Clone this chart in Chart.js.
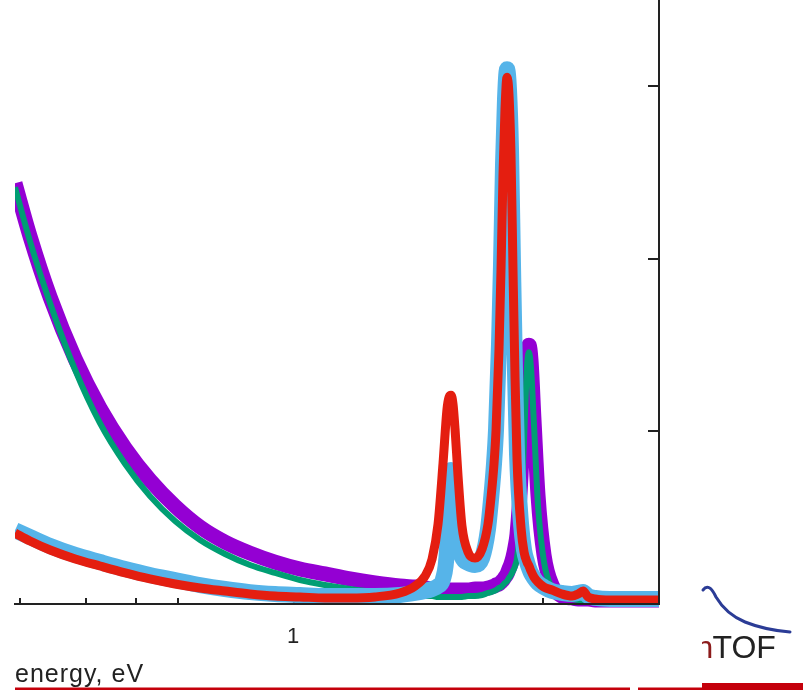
<!DOCTYPE html>
<html>
<head>
<meta charset="utf-8">
<script src="https://cdn.jsdelivr.net/npm/chart.js@4/dist/chart.umd.min.js"></script>
<style>
  html, body { margin: 0; padding: 0; background: #ffffff; }
  #wrap { width: 803px; height: 690px; position: relative; }
</style>
</head>
<body>
<div id="wrap"><canvas id="c" width="803" height="690"></canvas></div>
<script>
// ---- data (energy in eV, y in arbitrary units) ----
const energy = [0.293,0.313,0.342,0.382,0.426,0.476,0.531,0.593,0.662,0.739,0.825,0.921,1.028,1.148,1.282,1.431,1.597,
  1.707,1.784,1.840,1.889,1.931,1.965,1.983,2.000,2.018,2.036,2.063,2.099,2.156,2.223,2.293,2.354,2.386,2.417,2.439,
  2.471,2.493,2.515,2.537,2.560,2.582,2.605,2.628,2.652,2.675,2.723,2.759,2.796,2.820,2.845,2.883,2.934,3.013,3.121,
  3.261,3.408,3.500,3.578,3.657,3.772,4.029,4.400,5.000];

const purplePoints = [2.438,2.131,1.778,1.419,1.135,0.903,0.718,0.567,0.446,0.359,0.295,0.243,0.203,0.174,0.145,0.122,0.104,
  0.098,0.093,0.087,0.087,0.081,0.081,0.081,0.081,0.081,0.081,0.081,0.081,0.081,0.087,0.087,0.093,0.098,0.104,0.110,
  0.116,0.127,0.139,0.156,0.174,0.203,0.232,0.272,0.330,0.405,0.747,1.152,1.442,1.500,1.413,1.065,0.631,0.284,0.110,
  0.046,0.035,0.029,0.029,0.029,0.023,0.023,0.023,0.023];

const greenLine = [2.415,2.102,1.743,1.355,1.048,0.811,0.625,0.481,0.371,0.290,0.226,0.180,0.139,0.110,0.087,0.069,0.058,
  0.052,0.046,0.046,0.041,0.041,0.041,0.041,0.041,0.041,0.041,0.041,0.041,0.046,0.046,0.052,0.064,0.069,0.075,0.081,
  0.093,0.098,0.110,0.122,0.133,0.151,0.168,0.191,0.220,0.266,0.544,0.950,1.384,1.459,1.367,1.036,0.573,0.243,0.093,
  0.041,0.029,0.023,0.023,0.023,0.023,0.017,0.017,0.017];

const bluePoints = [0.428,0.388,0.336,0.284,0.243,0.203,0.168,0.139,0.110,0.087,0.069,0.058,0.052,0.046,0.046,0.046,0.052,
  0.064,0.075,0.087,0.104,0.145,0.318,0.666,0.776,0.753,0.608,0.359,0.272,0.237,0.226,0.266,0.434,0.608,0.811,1.013,
  1.506,1.969,2.548,2.924,3.098,2.982,2.635,1.969,1.332,0.869,0.463,0.313,0.243,0.208,0.180,0.151,0.122,0.098,0.075,
  0.064,0.058,0.064,0.069,0.046,0.035,0.029,0.029,0.029];

const redLine = [0.411,0.365,0.313,0.261,0.220,0.180,0.145,0.116,0.093,0.075,0.058,0.046,0.041,0.035,0.035,0.041,0.064,
  0.104,0.162,0.261,0.463,0.816,1.129,1.199,1.210,1.158,1.013,0.741,0.452,0.301,0.266,0.318,0.463,0.620,0.811,1.008,
  1.477,1.940,2.490,2.866,3.052,2.953,2.606,1.940,1.303,0.840,0.440,0.301,0.243,0.220,0.191,0.156,0.127,0.098,0.081,
  0.058,0.046,0.058,0.075,0.041,0.029,0.023,0.023,0.023];

const xLabelValues = [1];
const xTickLabels = ['1'];
const xMinorTicks = [0.3,0.4,0.5,0.6,3];
const xMajorTicks = [1];
const yTickValues = [1,2,3];
const xTitle = 'energy, eV';
const logoText = ['n', 'TOF'];

const pts = arr => energy.map((e, i) => ({ x: e, y: arr[i] }));
const clipBox = { left: 0, right: 0, top: 20, bottom: 12 };

const innerTicks = {
  id: 'innerTicks',
  beforeDraw(chart) { chart.ctx.letterSpacing = '1px'; },
  beforeDatasetsDraw(chart) {
    const { ctx, chartArea, scales: { x, y } } = chart;
    ctx.save();
    ctx.strokeStyle = '#222';
    ctx.lineWidth = 2;
    ctx.beginPath();
    xMinorTicks.forEach(v => { const p = Math.round(x.getPixelForValue(v)); ctx.moveTo(p, chartArea.bottom); ctx.lineTo(p, chartArea.bottom - 6); });
    xMajorTicks.forEach(v => { const p = Math.round(x.getPixelForValue(v)); ctx.moveTo(p, chartArea.bottom); ctx.lineTo(p, chartArea.bottom - 11); });
    yTickValues.forEach(v => { const p = Math.round(y.getPixelForValue(v)); ctx.moveTo(chartArea.right, p); ctx.lineTo(chartArea.right - 11, p); });
    ctx.stroke();
    ctx.restore();
  },
  afterDraw(chart) {
    const ctx = chart.ctx;
    ctx.save();
    ctx.letterSpacing = '0px';
    // slide footer bars
    ctx.fillStyle = '#c4000b';
    ctx.fillRect(15, 687.5, 615, 2.5);
    ctx.fillRect(638, 687.5, 64, 2.5);
    ctx.fillRect(702, 683, 101, 7);
    // logo swoosh
    ctx.strokeStyle = '#2b3c96';
    ctx.lineWidth = 3;
    ctx.lineJoin = 'round';
    ctx.lineCap = 'round';
    ctx.beginPath();
    ctx.moveTo(703, 590);
    ctx.quadraticCurveTo(709, 582, 716, 597);
    ctx.quadraticCurveTo(726, 614, 745, 622);
    ctx.quadraticCurveTo(765, 630, 790, 632);
    ctx.stroke();
    // logo text
    ctx.font = '32px "Liberation Sans", Arial, sans-serif';
    ctx.textBaseline = 'alphabetic';
    ctx.textAlign = 'left';
    ctx.save();
    ctx.beginPath(); ctx.rect(702, 600, 101, 80); ctx.clip();
    ctx.fillStyle = '#8c1b1b';
    ctx.fillText(logoText[0], 695.5, 658);
    ctx.restore();
    ctx.fillStyle = '#222';
    ctx.fillText(logoText[1], 712.5, 658);
    ctx.restore();
  }
};

const lineSet = (label, arr, color, width, order) => ({
  label, data: pts(arr), borderColor: color, borderWidth: width, pointRadius: 0, order,
  cubicInterpolationMode: 'monotone', borderJoinStyle: 'round', borderCapStyle: 'butt', clip: clipBox
});

new Chart(document.getElementById('c'), {
  type: 'line',
  data: {
    datasets: [
      lineSet('fit 2', redLine, '#e41e10', 9, 0),
      lineSet('data 2', bluePoints, '#56b4e9', 16, 1),
      lineSet('fit 1', greenLine, '#009e73', 6, 2),
      lineSet('data 1', purplePoints, '#9400d3', 15, 3)
    ]
  },
  options: {
    responsive: false,
    animation: false,
    devicePixelRatio: 1,
    layout: { padding: { left: 15, top: 0, right: 0, bottom: 0 } },
    plugins: { legend: { display: false }, tooltip: { enabled: false } },
    scales: {
      x: {
        type: 'logarithmic', position: 'bottom', min: 0.293, max: 5,
        afterBuildTicks: s => { s.ticks = xLabelValues.map(v => ({ value: v })); },
        afterFit: s => { s.height = 86; },
        grid: { display: false, drawTicks: false },
        border: { display: true, color: '#222', width: 2, z: 1 },
        ticks: {
          autoSkip: false, maxRotation: 0, padding: 20, color: '#222',
          font: { family: '"Liberation Sans", Arial, sans-serif', size: 22 },
          callback: v => { const i = xLabelValues.indexOf(v); return i >= 0 ? xTickLabels[i] : ''; }
        },
        title: {
          display: true, text: xTitle, align: 'start', color: '#222',
          font: { family: '"Liberation Sans", Arial, sans-serif', size: 25 },
          padding: { top: 0, bottom: 0 }
        }
      },
      y: {
        type: 'linear', position: 'right', min: 0, max: 3.5,
        afterFit: s => { s.width = 144; },
        grid: { display: false, drawTicks: false },
        border: { display: true, color: '#222', width: 2, z: 1 },
        ticks: { display: false }
      }
    }
  },
  plugins: [innerTicks]
});
</script>
</body>
</html>
